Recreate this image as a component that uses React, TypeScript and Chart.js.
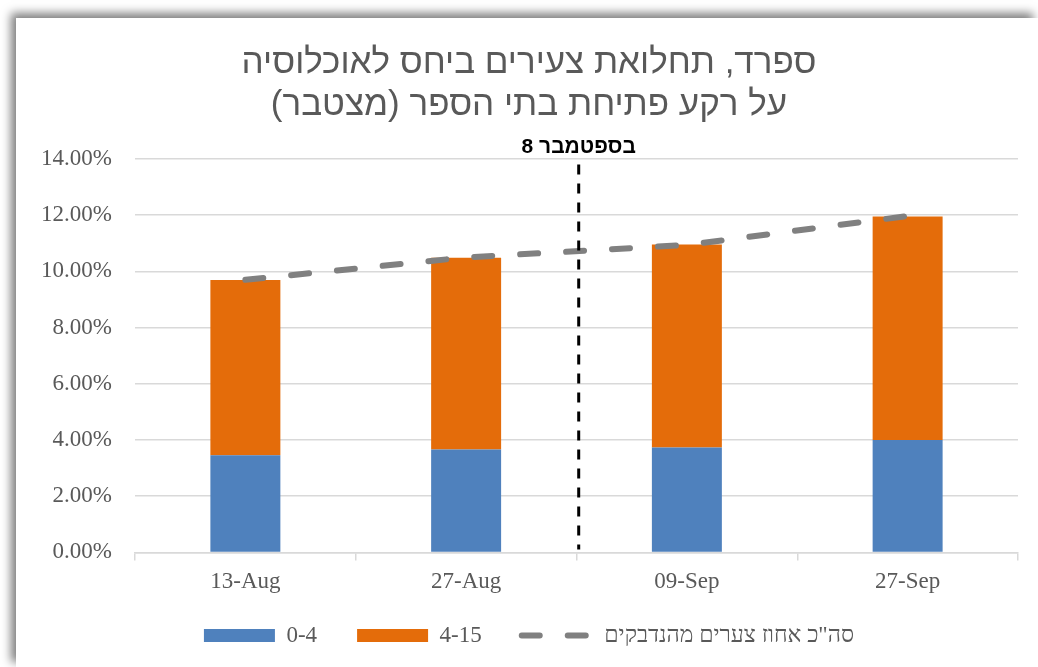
import React, { useEffect, useRef } from 'react';
import { Chart, registerables } from 'chart.js';

Chart.register(...registerables);

// ---------- data ----------
const categories = ['13-Aug', '27-Aug', '09-Sep', '27-Sep'];
const ages0to4 = [3.46, 3.66, 3.73, 4.0];
const ages4to15 = [6.23, 6.83, 7.23, 7.95];
const totalInfected = [9.7, 10.5, 10.94, 11.97];
const seriesLabels = ['0-4', '4-15', 'סה"כ אחוז צערים מהנדבקים'];
const titleLines = ['ספרד, תחלואת צעירים ביחס לאוכלוסיה', 'על רקע פתיחת בתי הספר (מצטבר)\u200F'];
const yMin = 0;
const yMax = 14;
const yStep = 2;
const markerLabel = 'בספטמבר 8';
const markerPosition = 1.51; // between 27-Aug and 09-Sep
const markerTopValue = 13.8;

const BLUE = '#4F81BD';
const ORANGE = '#E46C0A';
const GREY_LINE = '#808080';
const TEXT = '#595959';
const GRID = '#D9D9D9';
const SERIF = "'Liberation Serif', 'Liberation Sans', serif";
const SANS = "'Liberation Sans', 'DejaVu Sans', sans-serif";

const lineDash = [18, 28];

const markerPlugin = {
  id: 'schoolOpeningMarker',
  afterDatasetsDraw(chart: any) {
    const { ctx, scales } = chart;
    const x = scales.x;
    const y = scales.y;
    const px = x.getPixelForValue(markerPosition);
    const top = y.getPixelForValue(markerTopValue);
    const bottom = y.getPixelForValue(yMin);
    ctx.save();
    ctx.strokeStyle = '#000000';
    ctx.lineWidth = 3;
    ctx.setLineDash([10, 9]);
    ctx.beginPath();
    ctx.moveTo(px, top);
    ctx.lineTo(px, bottom - 3);
    ctx.stroke();
    ctx.setLineDash([]);
    ctx.fillStyle = '#000000';
    ctx.font = `bold 21px ${SANS}`;
    ctx.direction = 'rtl';
    ctx.textAlign = 'center';
    ctx.textBaseline = 'middle';
    ctx.fillText(markerLabel, px, y.getPixelForValue(yMax) - 12);
    ctx.restore();
  },
};

export default function App() {
  const canvasRef = useRef<HTMLCanvasElement | null>(null);

  useEffect(() => {
    document.documentElement.style.overflow = 'hidden';
    document.body.style.overflow = 'hidden';
    const canvas = canvasRef.current;
    if (!canvas) return;

    const chart = new Chart(canvas, {
      type: 'bar',
      data: {
        labels: categories,
        datasets: [
          {
            type: 'bar',
            label: seriesLabels[0],
            data: ages0to4,
            backgroundColor: BLUE,
            borderWidth: 0,
            stack: 'ages',
            order: 1,
            categoryPercentage: 1,
            barPercentage: 0.317,
          } as any,
          {
            type: 'bar',
            label: seriesLabels[1],
            data: ages4to15,
            backgroundColor: ORANGE,
            borderWidth: 0,
            stack: 'ages',
            order: 1,
            categoryPercentage: 1,
            barPercentage: 0.317,
          } as any,
          {
            type: 'line',
            label: seriesLabels[2],
            data: totalInfected,
            borderColor: GREY_LINE,
            backgroundColor: GREY_LINE,
            borderWidth: 6,
            borderDash: lineDash,
            borderCapStyle: 'round',
            pointRadius: 0,
            pointHoverRadius: 0,
            fill: false,
            tension: 0,
            stack: 'total',
            order: 0,
          } as any,
        ],
      },
      options: {
        animation: false,
        responsive: false,
        devicePixelRatio: 1,
        layout: { padding: { left: 24, right: 20, top: 0, bottom: 10 } },
        plugins: {
          tooltip: { enabled: false },
          title: {
            display: true,
            text: titleLines,
            color: TEXT,
            font: { family: SANS, size: 35, weight: 'normal', lineHeight: 1.2 },
            padding: { top: 24, bottom: 33 },
          },
          legend: {
            display: true,
            position: 'bottom',
            title: {
              display: true,
              text: '',
              font: { size: 10, lineHeight: 1 },
              padding: { top: -30, bottom: 0 },
            },
            labels: {
              usePointStyle: true,
              pointStyleWidth: 71,
              boxHeight: 13,
              padding: 40,
              color: TEXT,
              font: { family: SERIF, size: 23 },
              sort: (a: any, b: any) => a.datasetIndex - b.datasetIndex,
              generateLabels: (ch: any) =>
                ch.data.datasets.map((ds: any, i: number) =>
                  ds.type === 'line'
                    ? {
                        text: ds.label,
                        fillStyle: 'rgba(0,0,0,0)',
                        strokeStyle: ds.borderColor,
                        lineWidth: ds.borderWidth,
                        lineDash: ds.borderDash,
                        lineCap: 'round',
                        pointStyle: 'line',
                        fontColor: TEXT,
                        hidden: false,
                        datasetIndex: i,
                      }
                    : {
                        text: ds.label,
                        fillStyle: ds.backgroundColor,
                        strokeStyle: ds.backgroundColor,
                        lineWidth: 0,
                        pointStyle: 'rect',
                        fontColor: TEXT,
                        hidden: false,
                        datasetIndex: i,
                      }
                ),
            },
          },
        },
        scales: {
          x: {
            stacked: true,
            offset: true,
            grid: {
              display: true,
              drawOnChartArea: false,
              drawTicks: true,
              tickLength: 8,
              color: GRID,
              lineWidth: 1.5,
              offset: true,
            },
            border: { display: true, color: GRID, width: 1.5 },
            ticks: {
              color: TEXT,
              padding: 8,
              font: { family: SERIF, size: 23 },
              maxRotation: 0,
            },
          },
          y: {
            stacked: true,
            min: yMin,
            max: yMax,
            grid: {
              color: GRID,
              lineWidth: 1.5,
              drawTicks: false,
            },
            border: { display: false },
            ticks: {
              stepSize: yStep,
              color: TEXT,
              padding: 23,
              font: { family: SERIF, size: 23 },
              callback: (v: any) => Number(v).toFixed(2) + '%',
            },
            afterFit: (axis: any) => {
              axis.width = 95;
            },
          },
        },
      } as any,
      plugins: [markerPlugin],
    });

    return () => {
      chart.destroy();
    };
  }, []);

  return (
    <div
      style={{
        position: 'absolute',
        left: 16,
        top: 18,
        width: 1022,
        height: 649,
        background: '#ffffff',
        boxShadow: '-5px -5px 9px rgba(0,0,0,0.5)',
      }}
    >
      <canvas ref={canvasRef} width={1022} height={649} style={{ display: 'block' }} />
    </div>
  );
}
